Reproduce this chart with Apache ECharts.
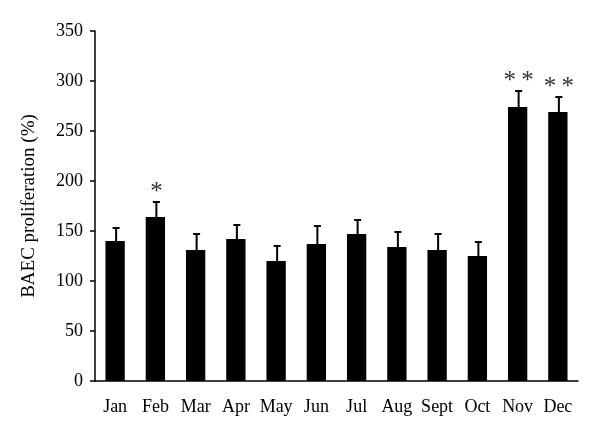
<!DOCTYPE html>
<html>
<head>
<meta charset="utf-8">
<script src="https://cdn.jsdelivr.net/npm/echarts@6/dist/echarts.min.js"></script>
<style>
  html, body { margin: 0; padding: 0; background: #fff; }
  #main { width: 600px; height: 433px; }
</style>
</head>
<body>
<div id="main"></div>
<script>
  // months and values
  var months = ['Jan', 'Feb', 'Mar', 'Apr', 'May', 'Jun', 'Jul', 'Aug', 'Sept', 'Oct', 'Nov', 'Dec'];
  var means = [140, 164, 131, 142, 120, 137, 147, 134, 131, 125, 274, 269];
  var errors = [13, 15, 16, 14, 15, 18, 14, 15, 16, 14, 16, 15];
  var marks = ['', '*', '', '', '', '', '', '', '', '', '**', '**'];

  var FONT = '"Liberation Serif", "DejaVu Serif", serif';

  var chart = echarts.init(document.getElementById('main'));

  // error bar + significance stars
  var errData = months.map(function (m, i) {
    return [i, means[i], means[i] + errors[i], marks[i]];
  });

  chart.setOption({
    animation: false,
    grid: { left: 95, right: 22, top: 31, bottom: 52 },
    xAxis: {
      type: 'category',
      data: months,
      axisLine: { lineStyle: { color: '#000', width: 1.5 } },
      axisTick: { length: 5, lineStyle: { color: '#000', width: 1.5 } },
      axisLabel: { color: '#000', fontFamily: FONT, fontSize: 18, margin: 17, interval: 0 }
    },
    yAxis: {
      type: 'value',
      min: 0,
      max: 350,
      interval: 50,
      name: 'BAEC proliferation (%)',
      nameLocation: 'middle',
      nameGap: 56,
      nameTextStyle: { color: '#000', fontFamily: FONT, fontSize: 19 },
      splitLine: { show: false },
      axisLine: { show: true, lineStyle: { color: '#000', width: 1.5 } },
      axisTick: { show: true, length: 5, lineStyle: { color: '#000', width: 1.5 } },
      axisLabel: { color: '#000', fontFamily: FONT, fontSize: 18, margin: 12 }
    },
    series: [
      {
        type: 'bar',
        data: means,
        barWidth: '48%',
        itemStyle: { color: '#000' }
      },
      {
        type: 'custom',
        data: errData,
        z: 5,
        renderItem: function (params, api) {
          var base = api.coord([api.value(0), api.value(1)]);
          var top = api.coord([api.value(0), api.value(2)]);
          var x = base[0] + 1;
          var children = [
            { type: 'line', shape: { x1: x, y1: base[1], x2: x, y2: top[1] },
              style: { stroke: '#000', lineWidth: 2 } },
            { type: 'line', shape: { x1: x - 3.5, y1: top[1], x2: x + 3.5, y2: top[1] },
              style: { stroke: '#000', lineWidth: 2 } }
          ];
          var mark = errData[params.dataIndex][3];
          if (mark) {
            children.push({
              type: 'text',
              style: {
                text: mark.split('').join('\u2009'),
                x: x,
                y: top[1] - 10,
                align: 'center',
                verticalAlign: 'middle',
                fill: '#333',
                font: '25px ' + FONT
              }
            });
          }
          return { type: 'group', children: children };
        }
      }
    ]
  });
</script>
</body>
</html>
